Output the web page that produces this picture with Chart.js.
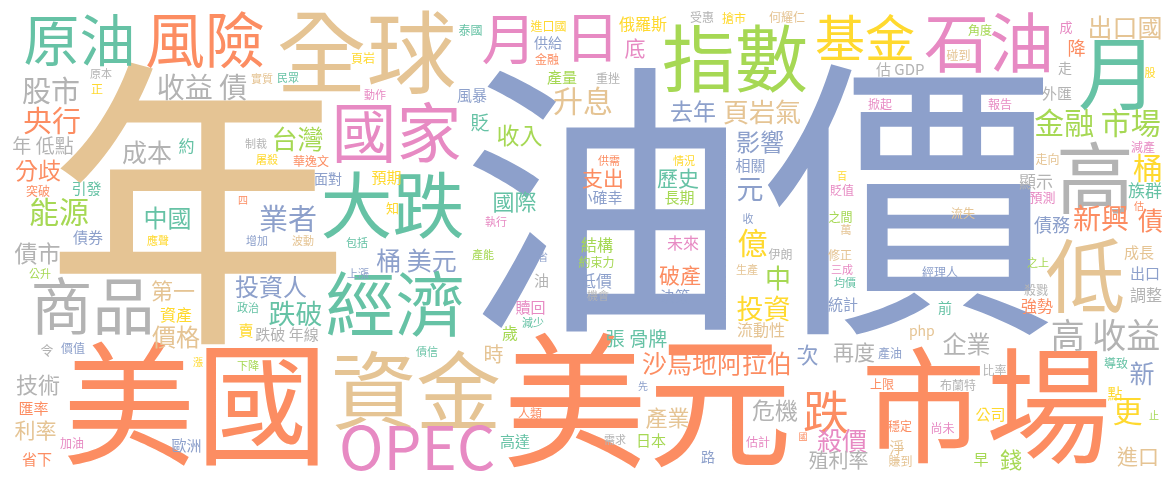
<!DOCTYPE html>
<html>
<head>
<meta charset="utf-8">
<script src="https://cdn.jsdelivr.net/npm/chart.js@4.4.1/dist/chart.umd.min.js"></script>
<style>
  html, body { margin: 0; padding: 0; background: #fff; }
  #wrap { width: 1175px; height: 482px; }
</style>
</head>
<body>
<div id="wrap"><canvas id="cloud" width="1175" height="482"></canvas></div>
<script>
// Words of the cloud (biggest first)
const words = [
  "年","油","價","美國","美元","市場","資金","OPEC","全球","原油",
  "風險","國家","大跌","經濟","商品","指數","日","月","基金","石油",
  "月","出口國","高","低","金融 市場","桶","族群","新興","債","債務",
  "顯示","預測","走向","減產","估","外匯","走","降","成","股",
  "角度","碰到","估 GDP","掀起","報告","何耀仁","頁岩氣","影響","去年","百",
  "貶值","之間","萬","流失","泰國","進口國","供給","金融","產量","重挫",
  "俄羅斯","底","受惠","搶市","升息","風暴","貶","收入","國際","執行",
  "供需","支出","小確幸","情況","歷史","長期","相關","元","收","億",
  "結構","未來","股市","原本","正","收益 債","頁岩","實質","民眾","動作",
  "央行","年 低點","分歧","突破","引發","能源","成本","約","台灣","制裁",
  "屠殺","華逸文","面對","預期","知","四","中國","業者","債券","應聲",
  "增加","波動","包括","債市","公升","第一","投資人","跌破","資產","政治",
  "價格","賣","跌破 年線","令","價值","漲","下降","技術","匯率","利率",
  "加油","省下","歐洲","桶 美元","上漲","產能","省","油","約束力","低價",
  "機會","破產","決策","中","投資","流動性","伊朗","生產","贖回","減少",
  "歲","債信","時","張 骨牌","沙烏地阿拉伯","先","人類","產業","危機","高達",
  "需求","日本","估計","路","修正","三成","均價","統計","經理人","之上",
  "殺戮","前","強勢","成長","出口","調整","高 收益","php","企業","再度",
  "次","產油","比率","導致","新","上限","布蘭特","點","跌","更",
  "止","公司","穩定","尚未","國","殺價","淨","進口","錢","早",
  "殖利率","賺到"
];

// where each word sits (x: 0..1175, y: 0..482 from top)
const wordX = [
  200,598,910,193,647,987,417,418,367,78,
  205,398,393,395,92,735,592,505,865,987,
  1112,1125,1095,1085,1097,1147,1145,1101,1150,1052,
  1036,1042,1047,1143,1139,1057,1065,1077,1066,1150,
  980,958,900,880,1000,787,762,760,693,842,
  842,840,846,963,470,548,548,547,562,608,
  643,635,702,734,583,472,480,520,515,496,
  609,602,600,684,678,679,750,750,748,752,
  597,683,51,101,97,202,363,262,288,375,
  52,43,38,38,87,59,147,186,298,256,
  267,311,328,386,392,243,168,288,88,158,
  257,303,357,37,40,173,271,295,176,248,
  176,246,287,47,73,198,248,38,34,35,
  72,37,186,416,358,483,543,541,596,596,
  598,680,675,778,763,761,780,747,530,533,
  510,427,494,637,716,643,530,667,775,515,
  615,652,758,708,840,842,845,843,940,1038,
  1036,945,1037,1139,1145,1146,1106,922,966,854,
  808,890,995,1116,1142,882,958,1115,826,1128,
  1154,990,900,943,803,842,897,1137,1011,981,
  838,900
];
const wordY = [
  203,199,200,403,400,405,390,448,52,40,
  40,132,205,303,305,58,38,40,37,42,
  75,27,177,275,123,168,190,218,220,225,
  182,197,159,147,206,93,68,48,28,73,
  30,55,69,104,104,17,112,142,111,176,
  190,217,230,212,30,26,43,59,77,78,
  24,48,17,18,101,96,122,135,202,222,
  160,178,198,160,178,198,165,190,218,243,
  245,243,90,73,89,87,58,78,78,94,
  120,145,170,191,189,212,152,146,139,143,
  159,160,179,178,208,200,218,218,238,240,
  240,240,242,253,274,291,287,313,315,307,
  337,330,334,350,348,362,365,385,408,430,
  443,459,445,260,273,254,257,280,262,281,
  295,275,296,278,308,330,254,269,307,322,
  333,351,354,339,363,386,413,418,410,442,
  439,440,441,457,254,270,282,305,272,262,
  290,308,306,253,273,295,335,332,344,352,
  355,353,369,363,373,384,385,393,412,412,
  415,414,426,428,437,440,447,456,460,460,
  460,460
];

// relative weight of each word
const weight = [
  305,288,295,133,145,125,85,60,90,56,
  60,65,72,70,62,73,55,55,50,65,
  80,25,78,80,30,30,17,28,25,18,
  17,13,12,12,10,15,14,18,13,11,
  12,12,15,12,12,12,26,24,23,10,
  12,12,11,12,12,12,14,12,15,12,
  16,21,12,12,30,15,19,23,22,11,
  11,21,15,11,21,15,15,27,11,30,
  16,16,29,11,12,28,12,11,11,11,
  29,19,23,12,15,30,25,16,26,11,
  11,12,14,15,13,10,24,29,15,11,
  11,11,11,23,11,22,24,27,16,11,
  24,15,15,13,12,10,11,22,15,21,
  12,15,15,25,11,11,10,15,12,16,
  11,21,15,26,27,16,12,11,15,11,
  16,11,20,19,25,10,12,22,23,15,
  11,15,12,14,12,11,11,15,12,11,
  12,14,16,15,15,16,34,14,24,21,
  22,12,12,12,25,12,12,15,46,30,
  10,15,12,12,9,25,15,21,22,15,
  20,12
];

// colour group of each word
const tone = (
  "NBBOOONPNT" + "OPTTAGPPYP" + "TNANGYTOOB" + "APNPOAAOPY" +
  "GNAPPNNBBY" + "PGNNTYBOGA" + "YPAYNBTGTP" + "OOBYTGBBBY" +
  "GPAAYAYNTP" + "OAOOTGATGA" + "YOBYYOTBBY" + "BNTAGNBTYT" +
  "NYAABYGAON" + "POBBBGBAGB" + "AOBGYNANPT" + "GTNTOBONAT" +
  "AGPBNPTBBG" + "ATONBAANAA" + "BBATBOAYOY" + "GYOPOPNNGG" +
  "AN"
).split("");

const palette = {
  T: "#66c2a5", O: "#fc8d62", B: "#8da0cb", P: "#e78ac3",
  G: "#a6d854", Y: "#ffd92f", N: "#e5c494", A: "#b3b3b3"
};
const FONT = '"Noto Sans CJK TC", "Noto Sans CJK SC", "Noto Sans", sans-serif';

const points = words.map((w, i) => ({ x: wordX[i], y: wordY[i] }));

// draws the words on top of the (invisible) points
const wordPlugin = {
  id: "wordLabels",
  afterDatasetsDraw(chart) {
    const ctx = chart.ctx;
    const meta = chart.getDatasetMeta(0);
    ctx.save();
    ctx.textAlign = "left";
    ctx.textBaseline = "alphabetic";
    meta.data.forEach((pt, i) => {
      ctx.font = weight[i] + "px " + FONT;
      const m = ctx.measureText(words[i]);
      const x = pt.x - (m.actualBoundingBoxRight - m.actualBoundingBoxLeft) / 2;
      const y = pt.y + (m.actualBoundingBoxAscent - m.actualBoundingBoxDescent) / 2;
      ctx.fillStyle = palette[tone[i]];
      ctx.fillText(words[i], x, y);
    });
    ctx.restore();
  }
};

new Chart(document.getElementById("cloud"), {
  type: "scatter",
  data: {
    datasets: [{
      data: points,
      pointRadius: 0,
      pointHoverRadius: 0
    }]
  },
  options: {
    responsive: false,
    animation: false,
    layout: { padding: 0 },
    plugins: { legend: { display: false }, tooltip: { enabled: false } },
    scales: {
      x: { type: "linear", min: 0, max: 1175, display: false },
      y: { type: "linear", min: 0, max: 482, reverse: true, display: false }
    }
  },
  plugins: [wordPlugin]
});
</script>
</body>
</html>
